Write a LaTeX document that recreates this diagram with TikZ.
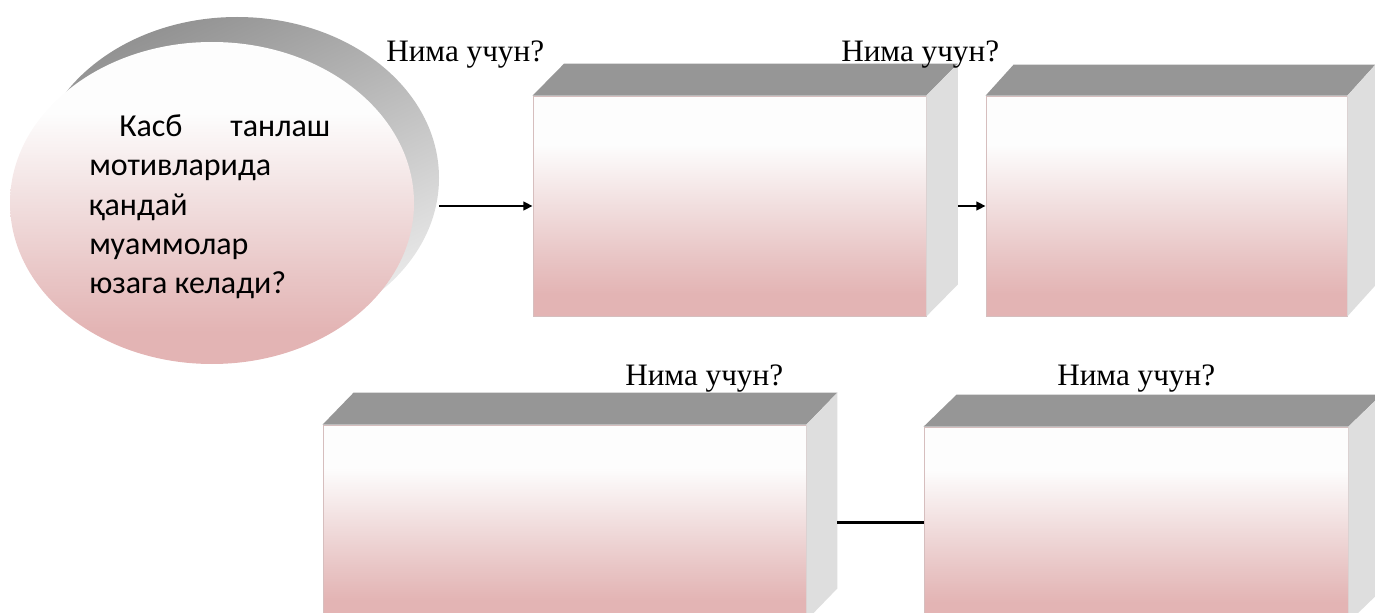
\documentclass[tikz,border=0pt]{standalone}
\usepackage{fontspec}
\setmainfont{Liberation Serif}
\newfontfamily\carl{Carlito}
\usetikzlibrary{shapes.geometric,arrows.meta}
\definecolor{pinkc}{RGB}{227,180,180}
\definecolor{pinkq}{RGB}{232,196,196}
\definecolor{pinkm}{RGB}{241,222,222}
\definecolor{whitec}{RGB}{253,253,253}
\definecolor{topc}{RGB}{150,150,150}
\definecolor{sidec}{RGB}{222,222,222}
\definecolor{edgec}{RGB}{214,190,190}
\definecolor{shdark}{RGB}{145,145,145}
\definecolor{shlight}{RGB}{236,236,236}
\pgfdeclareverticalshading{frontshade}{100bp}{color(0bp)=(pinkc); color(30bp)=(pinkc); color(38bp)=(pinkq); color(50bp)=(pinkm); color(64bp)=(whitec); color(100bp)=(whitec)}
\newcommand\boxfaces[3]{%
  \fill[topc] (#1.north west) -- ++(#2,-#3) -- ([shift={(#2,-#3)}]#1.north east) -- (#1.north east) -- cycle;
  \fill[sidec] (#1.north east) -- ++(#2,-#3) -- ([shift={(#2,-#3)}]#1.south east) -- (#1.south east) -- cycle;}
\tikzset{
  front/.style={rectangle, inner sep=0pt, shading=frontshade, draw=edgec, line width=0.6pt},
  lbl/.style={anchor=base west, inner sep=0pt, font=\fontsize{23.4}{28}\selectfont},
  etext/.style={anchor=base west, inner sep=0pt, font=\carl\fontsize{24}{29}\selectfont},
  conn/.style={line width=1.6pt, black},
  arr/.style={conn, -{Triangle[length=7pt,width=6.5pt]}}
}
\begin{document}
\begin{tikzpicture}[x=0.75pt,y=-0.75pt]
\useasboundingbox (0,0) rectangle (1375,613);
\clip (0,0) rectangle (1375,613);
% ellipse with its gray shadow
\node[ellipse, inner sep=0pt, minimum width=303pt, minimum height=241.5pt,
      top color=shdark, bottom color=shlight, shading angle=25] (sh) at (237,178) {};
\node[ellipse, inner sep=0pt, minimum width=303pt, minimum height=241.5pt,
      shading=frontshade] (q) at (212,203) {};
\node[etext] (t1) at (119,137) {\makebox[158.25pt][l]{Касб\hfill танлаш}};
\node[etext] (t2) at (89,176) {мотивларида};
\node[etext] (t3) at (89,215) {қандай};
\node[etext] (t4) at (89,254) {муаммолар};
\node[etext] (t5) at (89,293) {юзага келади?};
% boxes
\node[front, minimum width=294.75pt, minimum height=165pt] (b1) at (729.5,206) {};
\boxfaces{b1}{31.5}{32}
\node[front, minimum width=270.75pt, minimum height=165pt] (b2) at (1166.5,206) {};
\boxfaces{b2}{28}{31}
\node[front, minimum width=362.25pt, minimum height=146.25pt] (b3) at (564.5,522.5) {};
\boxfaces{b3}{31}{32}
\node[front, minimum width=318pt, minimum height=146.25pt] (b4) at (1136,524.5) {};
\boxfaces{b4}{33}{32}
% labels
\node[lbl] (l1) at (386,62) {Нима учун?};
\node[lbl] (l2) at (841,62) {Нима учун?};
\node[lbl] (l3) at (625,385) {Нима учун?};
\node[lbl] (l4) at (1057,385) {Нима учун?};
% connectors
\coordinate (r1) at ([shift={(31.5,0)}]b1.east);
\coordinate (r3) at ([shift={(31,0)}]b3.east);
\draw[arr] (sh.east |- b1.west) -- (b1.west);
\draw[arr] (r1) -- (b2.west);
\draw[conn] (r3) -- (r3 -| b4.west);
\end{tikzpicture}
\end{document}
